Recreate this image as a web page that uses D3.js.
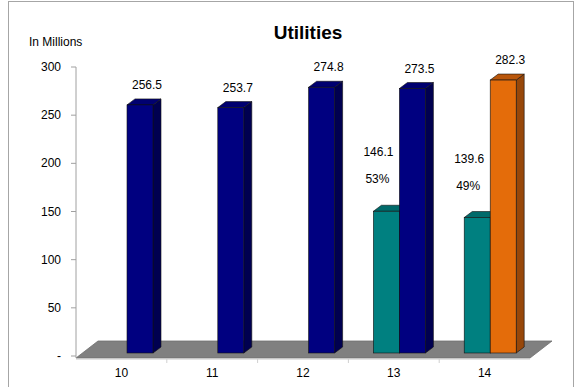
<!DOCTYPE html>
<html>
<head>
<meta charset="utf-8">
<script src="https://cdn.jsdelivr.net/npm/d3@7"></script>
<style>
  body { margin: 0; background: #fff; }
  text { font-family: "Liberation Sans", Arial, sans-serif; fill: #000; }
</style>
</head>
<body>
<div id="chart-area"></div>
<script>
var categories = ["10", "11", "12", "13", "14"];
var totals = [256.5, 253.7, 274.8, 273.5, 282.3];
var shares = [null, null, null, 146.1, 139.6];
var sharePct = [null, null, null, "53%", "49%"];
var tickValues = [0, 50, 100, 150, 200, 250, 300];
var tickLabels = ["-", "50", "100", "150", "200", "250", "300"];

var width = 577, height = 387;

var svg = d3.select("#chart-area").append("svg")
    .attr("width", width)
    .attr("height", height);

// outer frame
svg.append("rect")
    .attr("x", 8.5).attr("y", 1.5)
    .attr("width", 565).attr("height", 390)
    .attr("fill", "none")
    .attr("stroke", "#a6a6a6");

var x = d3.scaleBand().domain(categories).range([76, 530]);
var x1 = d3.scaleBand().domain(["share", "total"]).range([25, 77]);
var y = d3.scaleLinear().domain([0, 300]).range([356, 67]);

var depth = { dx: 8, dy: -6 };
var floorDepth = { dx: 22, dy: -17 };

// floor
var fx0 = x.range()[0], fx1 = x.range()[1], fy = y(0) + 2;
svg.append("polygon")
    .attr("points", [
        [fx0, fy], [fx1, fy],
        [fx1 + floorDepth.dx, fy + floorDepth.dy],
        [fx0 + floorDepth.dx, fy + floorDepth.dy]
    ].join(" "))
    .attr("fill", "#808080")
    .attr("stroke", "#6e6e6e")
    .attr("stroke-width", 0.8);
svg.append("line")
    .attr("x1", fx0).attr("x2", fx1)
    .attr("y1", fy + 1).attr("y2", fy + 1)
    .attr("stroke", "#c8c8c8");

// category boundary ticks
svg.selectAll(".xtick")
    .data(categories.slice(1))
    .enter().append("line")
    .attr("x1", (d) => x(d)).attr("x2", (d) => x(d))
    .attr("y1", fy + 1).attr("y2", fy + 5)
    .attr("stroke", "#d0d0d0");

// y axis
var yAxis = svg.append("g");
yAxis.append("line")
    .attr("x1", 76).attr("x2", 76)
    .attr("y1", y(300)).attr("y2", fy)
    .attr("stroke", "#a0a0a0");
yAxis.selectAll(".ytick")
    .data(tickValues)
    .enter().append("line")
    .attr("x1", 71).attr("x2", 76)
    .attr("y1", (d) => y(d)).attr("y2", (d) => y(d))
    .attr("stroke", "#a0a0a0");
yAxis.selectAll(".ylab")
    .data(tickValues)
    .enter().append("text")
    .attr("x", 61)
    .attr("y", (d) => y(d) + 4)
    .attr("text-anchor", "end")
    .style("font-size", "12px")
    .text((d, i) => tickLabels[i]);

// x labels
svg.selectAll(".xlab")
    .data(categories)
    .enter().append("text")
    .attr("x", (d) => x(d) + x.bandwidth() / 2)
    .attr("y", 377)
    .attr("text-anchor", "middle")
    .style("font-size", "12px")
    .text((d) => d);

// bars
var bars = [];
categories.forEach((c, i) => {
    if (shares[i] != null) bars.push({ cat: c, key: "share", value: shares[i], i: i });
    bars.push({ cat: c, key: "total", value: totals[i], i: i });
});

function palette(d) {
    if (d.key === "share") return { front: "#008080", side: "#004f4f", top: "#006a6a" };
    if (d.i === categories.length - 1) return { front: "#e46c0a", side: "#97470a", top: "#b9560a" };
    return { front: "#000080", side: "#000050", top: "#000070" };
}

var base = y(0) - 3;
var barG = svg.selectAll(".bar")
    .data(bars)
    .enter().append("g");

barG.each(function (d) {
    var g = d3.select(this);
    var col = palette(d);
    var x0 = x(d.cat) + x1(d.key), w = x1.bandwidth();
    var top = y(d.value) - 4;
    g.append("polygon")
        .attr("points", [[x0 + w, top], [x0 + w + depth.dx, top + depth.dy],
            [x0 + w + depth.dx, base + depth.dy], [x0 + w, base]].join(" "))
        .attr("fill", col.side).attr("stroke", "#111").attr("stroke-width", 0.6);
    g.append("polygon")
        .attr("points", [[x0, top], [x0 + depth.dx, top + depth.dy],
            [x0 + w + depth.dx, top + depth.dy], [x0 + w, top]].join(" "))
        .attr("fill", col.top).attr("stroke", "#111").attr("stroke-width", 0.6);
    g.append("rect")
        .attr("x", x0).attr("y", top)
        .attr("width", w).attr("height", base - top)
        .attr("fill", col.front).attr("stroke", "#111").attr("stroke-width", 0.6);
});

// value labels on totals
svg.selectAll(".tlab")
    .data(bars.filter((d) => d.key === "total"))
    .enter().append("text")
    .attr("x", (d) => x(d.cat) + x1("total") + x1.bandwidth() / 2 + 7)
    .attr("y", (d) => y(d.value) - 20)
    .attr("text-anchor", "middle")
    .style("font-size", "12px")
    .text((d) => d.value.toFixed(1));

// share labels
var shareBars = bars.filter((d) => d.key === "share");
svg.selectAll(".slab")
    .data(shareBars)
    .enter().append("text")
    .attr("x", (d) => x(d.cat) + x1("share") + x1.bandwidth() / 2 - 8)
    .attr("y", (d) => y(d.value) - 59)
    .attr("text-anchor", "middle")
    .style("font-size", "12px")
    .text((d) => d.value.toFixed(1));
svg.selectAll(".plab")
    .data(shareBars)
    .enter().append("text")
    .attr("x", (d) => x(d.cat) + x1("share") + x1.bandwidth() / 2 - 9)
    .attr("y", (d) => y(d.value) - 32)
    .attr("text-anchor", "middle")
    .style("font-size", "12px")
    .text((d) => sharePct[d.i]);

// title and unit
svg.append("text")
    .attr("x", 308).attr("y", 39)
    .attr("text-anchor", "middle")
    .style("font-size", "19px")
    .style("font-weight", "bold")
    .text("Utilities");
svg.append("text")
    .attr("x", 29).attr("y", 46)
    .style("font-size", "12px")
    .text("In Millions");
</script>
</body>
</html>
